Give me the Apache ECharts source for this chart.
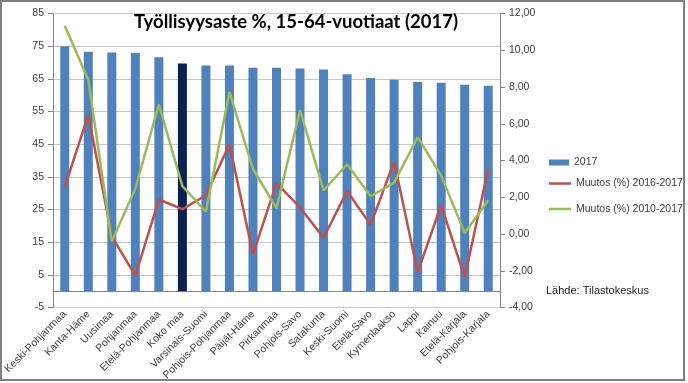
<!DOCTYPE html>
<html>
<head>
<meta charset="utf-8">
<script src="https://cdn.jsdelivr.net/npm/echarts@6/dist/echarts.min.js"></script>
<style>
html,body{margin:0;padding:0;background:#fff;}
#c{width:688px;height:383px;}
</style>
</head>
<body>
<div id="c"></div>
<script>
const categories = ['Keski-Pohjanmaa','Kanta-Häme','Uusimaa','Pohjanmaa','Etelä-Pohjanmaa','Koko maa','Varsinais-Suomi','Pohjois-Pohjanmaa','Päijät-Häme','Pirkanmaa','Pohjois-Savo','Satakunta','Keski-Suomi','Etelä-Savo','Kymenlaakso','Lappi','Kainuu','Etelä-Karjala','Pohjois-Karjala'];
const rate2017 = [75.0, 73.3, 73.1, 72.9, 71.6, 69.7, 69.1, 69.1, 68.4, 68.4, 68.2, 67.9, 66.4, 65.3, 64.7, 64.0, 63.8, 63.2, 62.9];
const change2016_2017 = [2.56, 6.48, -0.12, -2.26, 1.88, 1.36, 2.11, 4.88, -1.10, 2.77, 1.45, -0.20, 2.34, 0.50, 3.95, -2.08, 1.58, -2.35, 3.54];
const change2010_2017 = [11.33, 8.40, -0.39, 2.47, 7.05, 2.61, 1.22, 7.73, 3.54, 1.40, 6.75, 2.38, 3.80, 2.06, 2.80, 5.27, 3.18, 0.06, 1.84];
const seriesNames = ['2017', 'Muutos (%) 2016-2017', 'Muutos (%) 2010-2017'];
const highlightCategory = 'Koko maa';

const barColor = '#4f81bd';
const chart = echarts.init(document.getElementById('c'), null, {renderer: 'canvas'});
const labelColor = '#404040';
const font = 'Liberation Sans';
const legendText = {fontFamily: font, fontSize: 10.5, color: labelColor};
chart.setOption({
  animation: false,
  backgroundColor: '#fff',
  title: {
    text: 'Työllisyysaste %, 15-64-vuotiaat (2017)',
    left: 134, top: 13, padding: 0,
    textStyle: {fontFamily: 'Lato', fontWeight: 'bold', fontSize: 18.5, color: '#000'}
  },
  legend: [
    {
      orient: 'vertical', left: 549, top: 157, padding: 0,
      itemWidth: 20, itemHeight: 6, icon: 'rect',
      textStyle: legendText, data: [{name: seriesNames[0], itemStyle: {color: barColor}}]
    },
    {
      orient: 'vertical', left: 549, top: 178, padding: 0,
      itemWidth: 22, itemHeight: 2.5, itemGap: 14.5, icon: 'rect',
      textStyle: legendText, data: [seriesNames[1], seriesNames[2]]
    }
  ],
  graphic: [
    {type: 'rect', shape: {x: 1, y: 1, width: 683, height: 379}, style: {fill: 'none', stroke: '#808080', lineWidth: 2}, silent: true},
    {type: 'text', left: 546, top: 285, style: {text: 'Lähde: Tilastokeskus', font: '11px "Liberation Sans"', fill: '#202020'}}
  ],
  grid: {left: 53, right: 188, top: 13.5, bottom: 70.5},
  xAxis: {
    type: 'category', data: categories,
    axisLine: {onZero: true, onZeroAxisIndex: 0, lineStyle: {color: '#868686', width: 1}},
    axisTick: {length: 5, lineStyle: {color: '#868686'}},
    axisLabel: {rotate: 45, interval: 0, margin: 5, fontFamily: font, fontSize: 10.5, color: labelColor}
  },
  yAxis: [
    {
      type: 'value', min: -5, max: 85, interval: 10,
      axisLine: {show: true, lineStyle: {color: '#868686'}},
      axisTick: {show: true, length: 5, lineStyle: {color: '#868686'}},
      splitLine: {lineStyle: {color: '#c8c8c8', width: 1}},
      axisLabel: {margin: 9, fontFamily: font, fontSize: 10.5, color: labelColor}
    },
    {
      type: 'value', min: -4, max: 12, interval: 2,
      axisLine: {show: true, lineStyle: {color: '#868686'}},
      axisTick: {show: true, length: 5, lineStyle: {color: '#868686'}},
      splitLine: {show: false},
      axisLabel: {margin: 9, fontFamily: font, fontSize: 10.5, color: labelColor,
        formatter: v => v.toFixed(2).replace('.', ',')}
    }
  ],
  series: [
    {
      name: seriesNames[0], type: 'bar', yAxisIndex: 0, barWidth: 9,
      data: rate2017,
      itemStyle: {color: p => categories[p.dataIndex] === highlightCategory ? '#0c2257' : barColor}
    },
    {
      name: seriesNames[1], type: 'line', yAxisIndex: 1, data: change2016_2017,
      symbol: 'none', lineStyle: {color: '#c0504d', width: 2.5}, itemStyle: {color: '#c0504d'}
    },
    {
      name: seriesNames[2], type: 'line', yAxisIndex: 1, data: change2010_2017,
      symbol: 'none', lineStyle: {color: '#9bbb59', width: 2.5}, itemStyle: {color: '#9bbb59'}
    }
  ]
});
</script>
</body>
</html>
